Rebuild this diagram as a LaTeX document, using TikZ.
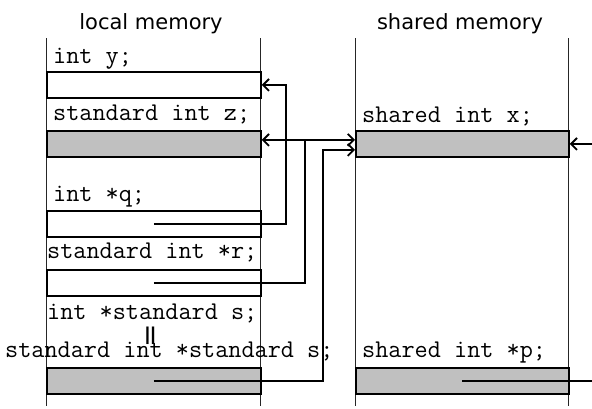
\documentclass[tikz,border=0pt]{standalone}
\usepackage{fontspec}
\newfontfamily\titlefont{DejaVu Sans}
\usetikzlibrary{arrows.meta}
\definecolor{cellgray}{RGB}{192,192,192}
\begin{document}
\begin{tikzpicture}[x=1pt,y=-1pt,
  col/.style={line width=0.8pt, draw=black!85},
  box/.style={draw, line width=1.8pt, minimum height=26pt, inner sep=0pt, anchor=north west},
  lbox/.style={box, minimum width=214pt},
  rbox/.style={box, minimum width=213pt},
  shade/.style={fill=cellgray},
  code/.style={font=\ttfamily\fontsize{25.5}{25.5}\selectfont, anchor=base west, inner sep=0pt},
  title/.style={font=\titlefont\fontsize{21}{21}\selectfont, anchor=base, inner sep=0pt},
  conn/.style={line width=1.8pt},
  arr/.style={conn, -{Straight Barb[length=6pt,width=12pt,line width=1.8pt]}},
  dbl/.style={conn, {Straight Barb[length=6pt,width=12pt,line width=1.8pt]}-{Straight Barb[length=6pt,width=12pt,line width=1.8pt]}}]
\clip (0,0) rectangle (592,408);
% titles
\node[title] (tl) at (151,29) {local memory};
\node[title] (ts) at (460,29) {shared memory};
% column lines
\draw[col] (46,38) -- (46,406);
\draw[col] (260,38) -- (260,406);
\draw[col] (355,38) -- (355,406);
\draw[col] (568,38) -- (568,406);
% local memory boxes
\node[lbox] (yb) at (46,71) {};
\node[lbox, shade] (zb) at (46,130) {};
\node[lbox] (qb) at (46,210) {};
\node[lbox] (rb) at (46,269) {};
\node[lbox, shade] (sb) at (46,367) {};
% shared memory boxes
\node[rbox, shade] (xb) at (355,130) {};
\node[rbox, shade] (pb) at (355,367) {};
% labels
\node[code] (ly) at (53,63) {int y;};
\node[code] (lz) at (53,120) {standard int z;};
\node[code] (lq) at (53,201) {int *q;};
\node[code] (lr) at (47,258) {standard int *r;};
\node[code] (ls1) at (47,319) {int *standard s;};
\node[font=\titlefont\fontsize{28}{28}\selectfont, rotate=90, inner sep=0pt] (leq) at (153,336) {=};
\node[code] (ls2) at (5,357) {standard int *standard s;};
\node[code] (lx) at (362,122) {shared int x;};
\node[code] (lp) at (362,357) {shared int *p;};
% connector coordinates
\coordinate (qx) at (286,0);
\coordinate (rx) at (305,0);
\coordinate (sx) at (323,0);
\coordinate (px) at (600,0);
\coordinate (zin) at ([yshift=4pt]zb.east);
\coordinate (xin) at ([yshift=4pt]xb.west);
\coordinate (xin2) at ([yshift=-6pt]xb.west);
% connectors
\draw[arr] (qb.center) -| (qx |- yb.east) -- (yb.east);
\draw[dbl] (zin) -- (xin);
\draw[conn] (rb.center) -| (rx |- zin);
\draw[arr] (sb.center) -| (sx |- xin2) -- (xin2);
\draw[arr] (pb.center) -| (px |- xb.east) -- (xb.east);
\end{tikzpicture}
\end{document}
